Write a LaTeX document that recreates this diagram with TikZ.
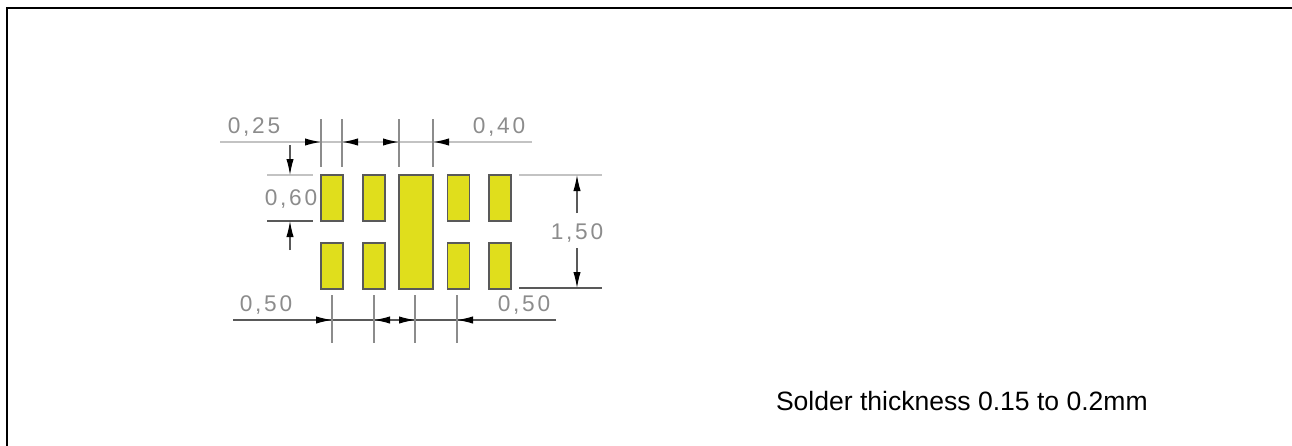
\documentclass[tikz,border=0pt]{standalone}
\usepackage{fontspec}
\setmainfont{Liberation Sans}
\usepackage{tikz}
\usetikzlibrary{arrows.meta}
\definecolor{padyellow}{RGB}{224,222,28}
\definecolor{dimgrey}{RGB}{140,140,140}
\definecolor{paleline}{RGB}{195,195,195}

\begin{document}
\begin{tikzpicture}
[
    x = 0.75pt, y = -0.75pt,
    every node/.append style = {inner sep = 0pt, outer sep = 0pt},
    padbox/.style = {draw = black!65, line width = 1pt, fill = padyellow, minimum width = 16.5pt, minimum height = 34.5pt},
    dimtext/.style = {text = dimgrey, font = \fontsize{17}{19}\selectfont\addfontfeatures{LetterSpace=12}},
    paledim/.style = {draw = paleline, line width = 1.1pt},
    darkdim/.style = {draw = black!65, line width = 0.8pt},
    tick/.style = {draw = dimgrey, line width = 1pt},
    headin/.style = {-{Latex[black, length = 12pt, width = 5.5pt]}},
    headboth/.style = {{Latex[black, length = 12pt, width = 5.5pt]}-{Latex[black, length = 12pt, width = 5.5pt]}}]

\useasboundingbox (0,0) rectangle (1292,446);

% outline, open on the right and at the bottom
\coordinate (frameA) at (1292,7.5);
\coordinate (frameB) at (7,7.5);
\coordinate (frameC) at (7,446);
\draw [line width = 1.5pt] (frameA) -- (frameB) -- (frameC);

% pads
\node [padbox] (padA) at (332,198) {};
\node [padbox] (padB) at (374,198) {};
\node [padbox] (padC) at (458.5,198) {};
\node [padbox] (padD) at (500,198) {};
\node [padbox] (padE) at (332,266) {};
\node [padbox] (padF) at (374,266) {};
\node [padbox] (padG) at (458.5,266) {};
\node [padbox] (padH) at (500,266) {};
\node [padbox, minimum width = 25.5pt, minimum height = 85.5pt] (padM) at (416,232) {};

% top dimension
\coordinate (topL) at (220,142);
\coordinate (topR) at (532,142);
\coordinate (tickA) at (321,142);
\coordinate (tickB) at (342,142);
\coordinate (tickC) at (399,142);
\coordinate (tickD) at (433,142);
\coordinate (tickAu) at (321,119);
\coordinate (tickAd) at (321,167);
\coordinate (tickBu) at (342,119);
\coordinate (tickBd) at (342,167);
\coordinate (tickCu) at (399,119);
\coordinate (tickCd) at (399,167);
\coordinate (tickDu) at (433,119);
\coordinate (tickDd) at (433,167);
\draw [paledim] (topL) -- (topR);
\draw [paledim, headin] (topL) -- (tickA);
\draw [paledim, headboth] (tickB) -- (tickC);
\draw [paledim, headin] (topR) -- (tickD);
\draw [tick] (tickAu) -- (tickAd);
\draw [tick] (tickBu) -- (tickBd);
\draw [tick] (tickCu) -- (tickCd);
\draw [tick] (tickDu) -- (tickDd);
\node [dimtext] (labA) at (254,127) {0,25};
\node [dimtext] (labB) at (499,127) {0,40};

% left dimension
\coordinate (leftA) at (267,175);
\coordinate (leftB) at (313,175);
\coordinate (leftC) at (267,221);
\coordinate (leftD) at (313,221);
\coordinate (leftE) at (290,145);
\coordinate (leftF) at (290,175);
\coordinate (leftG) at (290,250);
\coordinate (leftH) at (290,221);
\draw [paledim] (leftA) -- (leftB);
\draw [darkdim] (leftC) -- (leftD);
\draw [darkdim, headin] (leftE) -- (leftF);
\draw [darkdim, headin] (leftG) -- (leftH);
\node [dimtext] (labC) at (291,199) {0,60};

% right dimension
\coordinate (rightA) at (519,175);
\coordinate (rightB) at (602,175);
\coordinate (rightC) at (519,288);
\coordinate (rightD) at (602,288);
\coordinate (rightE) at (577,213);
\coordinate (rightF) at (577,175);
\coordinate (rightG) at (577,248);
\coordinate (rightH) at (577,288);
\draw [paledim] (rightA) -- (rightB);
\draw [darkdim] (rightC) -- (rightD);
\draw [darkdim, headin] (rightE) -- (rightF);
\draw [darkdim, headin] (rightG) -- (rightH);
\node [dimtext] (labD) at (577,233) {1,50};

% bottom dimension
\coordinate (botL) at (233,320);
\coordinate (botR) at (556,320);
\coordinate (tickE) at (332,320);
\coordinate (tickF) at (374,320);
\coordinate (tickG) at (415,320);
\coordinate (tickH) at (457,320);
\coordinate (tickEu) at (332,295);
\coordinate (tickEd) at (332,343);
\coordinate (tickFu) at (374,295);
\coordinate (tickFd) at (374,343);
\coordinate (tickGu) at (415,295);
\coordinate (tickGd) at (415,343);
\coordinate (tickHu) at (457,295);
\coordinate (tickHd) at (457,343);
\draw [darkdim] (botL) -- (botR);
\draw [darkdim, headin] (botL) -- (tickE);
\draw [darkdim, headboth] (tickF) -- (tickG);
\draw [darkdim, headin] (botR) -- (tickH);
\draw [tick] (tickEu) -- (tickEd);
\draw [tick] (tickFu) -- (tickFd);
\draw [tick] (tickGu) -- (tickGd);
\draw [tick] (tickHu) -- (tickHd);
\node [dimtext] (labE) at (266,305) {0,50};
\node [dimtext] (labF) at (524,305) {0,50};

\node [anchor = west, font = \fontsize{19.9}{22}\selectfont] (note) at (776,401) {Solder thickness 0.15 to 0.2mm};

\end{tikzpicture}
\end{document}
